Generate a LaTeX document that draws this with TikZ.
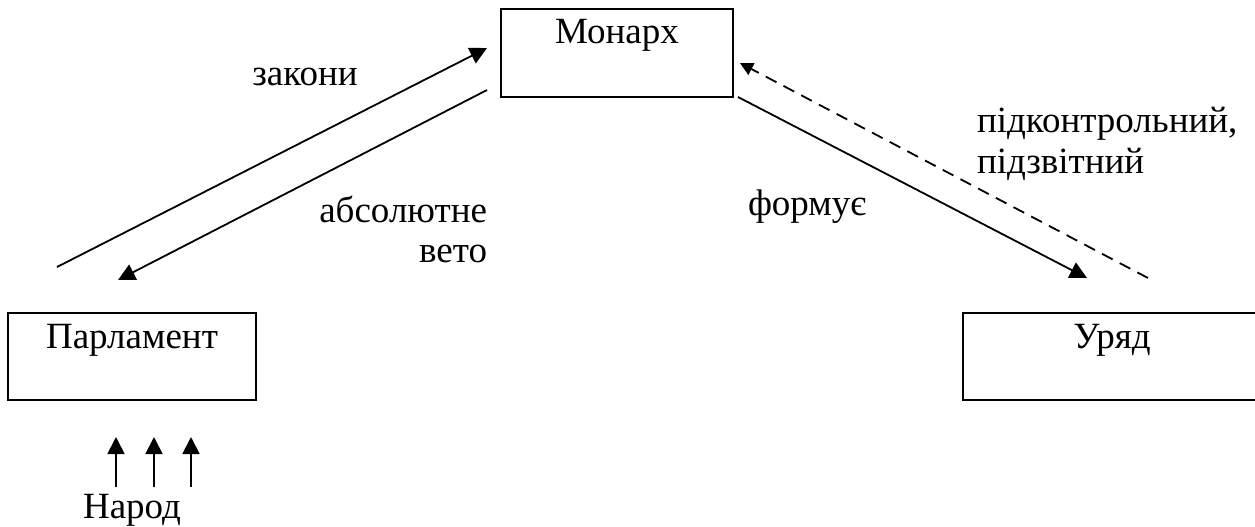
\documentclass[tikz,border=0pt]{standalone}
\usepackage{fontspec}
\setmainfont{Liberation Serif}
\usetikzlibrary{arrows.meta}
\begin{document}
\begin{tikzpicture}[x=0.5pt,y=-0.5pt,
  box/.style={draw, line width=0.9pt, inner sep=0pt, outer sep=0pt},
  boxline/.style={line width=0.9pt},
  lbl/.style={font=\fontsize{18.5}{22}\selectfont, inner sep=0pt, outer sep=0pt},
  conn/.style={line width=0.9pt, -{Triangle[length=8.5pt,width=8.5pt]}},
  dconn/.style={line width=0.9pt, dash pattern=on 6pt off 4pt, -{Triangle[length=6.5pt,width=6.5pt]}}]
\useasboundingbox (0,0) rectangle (1255,526);
% boxes
\node[box, minimum width=116pt, minimum height=44pt] (monarch) at (617,53) {};
\node[box, minimum width=124pt, minimum height=43.5pt] (parl) at (132,356.5) {};
% the government box runs up to the right edge of the picture
\node[inner sep=0pt, outer sep=0pt, minimum width=146pt, minimum height=43.5pt] (gov) at (1109,356.5) {};
\draw[boxline] (gov.north east) -- (gov.north west) -- (gov.south west) -- (gov.south east);
% box texts
\node[lbl, anchor=base] (monarchT) at (617,43) {Монарх};
\node[lbl, anchor=base] (parlT) at (132,348) {Парламент};
\node[lbl, anchor=base] (govT) at (1112,348) {Уряд};
\node[lbl, anchor=base] (narod) at (132,518) {Народ};
% labels
\node[lbl, anchor=base] (zakony) at (305,85) {закони};
\node[lbl, anchor=base east] (abs) at (487,222) {абсолютне};
\node[lbl, anchor=base east] (veto) at (487,262) {вето};
\node[lbl, anchor=base west] (form) at (748,215) {формує};
\node[lbl, anchor=base west] (pidk) at (977,132) {підконтрольний,};
\node[lbl, anchor=base west] (pidz) at (977,173) {підзвітний};
% connector ends
\coordinate (z1) at (57,267);
\coordinate (z2) at (487,48);
\coordinate (v1) at (487,90);
\coordinate (v2) at (118,280);
\coordinate (f1) at (738,97);
\coordinate (f2) at (1087,278);
\coordinate (d1) at (1148,278);
\coordinate (d2) at (740,63);
\coordinate (n1a) at (116,487);
\coordinate (n1b) at (116,437);
\coordinate (n2a) at (154,487);
\coordinate (n2b) at (154,437);
\coordinate (n3a) at (191,487);
\coordinate (n3b) at (191,437);
% connectors
\draw[conn] (z1) -- (z2);
\draw[conn] (v1) -- (v2);
\draw[conn] (f1) -- (f2);
\draw[dconn] (d1) -- (d2);
\draw[conn] (n1a) -- (n1b);
\draw[conn] (n2a) -- (n2b);
\draw[conn] (n3a) -- (n3b);
\end{tikzpicture}
\end{document}
